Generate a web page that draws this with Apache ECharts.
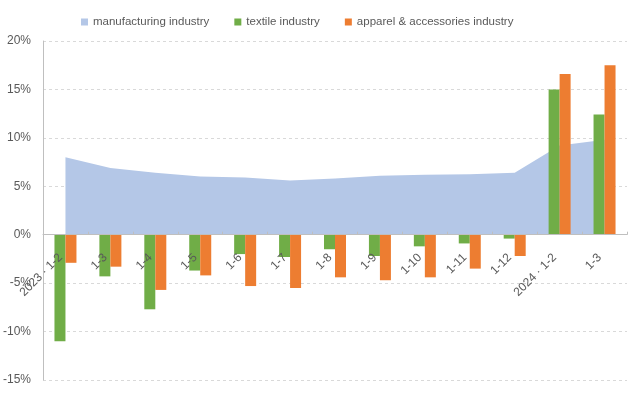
<!DOCTYPE html>
<html>
<head>
<meta charset="utf-8">
<title>Industry growth</title>
<script src="https://cdn.jsdelivr.net/npm/echarts@6/dist/echarts.min.js"></script>
<style>
  html, body { margin: 0; padding: 0; background: #fff; }
  #chart { width: 630px; height: 396px; }
</style>
</head>
<body>
<div id="chart"></div>
<script>
const categories = ['2023 · 1-2', '1-3', '1-4', '1-5', '1-6', '1-7', '1-8', '1-9', '1-10', '1-11', '1-12', '2024 · 1-2', '1-3']
const manufacturing = [8.0, 6.9, 6.4, 6.0, 5.9, 5.6, 5.8, 6.1, 6.2, 6.25, 6.4, 9.2, 9.8]
const textile = [-11.0, -4.3, -7.7, -3.7, -2.0, -2.3, -1.5, -2.2, -1.2, -0.9, -0.4, 15.0, 12.4]
const apparel = [-2.9, -3.3, -5.7, -4.2, -5.3, -5.5, -4.4, -4.7, -4.4, -3.5, -2.2, 16.6, 17.5]
const yTicks = { min: -15, max: 20, step: 5 }

const chart = echarts.init(document.getElementById('chart'))
const textColor = '#595959'
const font = 'Liberation Sans'

// grid box in pixels, the x axis is moved up to the 0% line
const gridTop = 41
const gridBottom = 16
const plotHeight = 396 - gridTop - gridBottom
const zeroOffset = plotHeight * (0 - yTicks.min) / (yTicks.max - yTicks.min)

const option = {
  animation: false,
  textStyle: { fontFamily: font },
  legend: {
    left: 76,
    top: 11,
    itemWidth: 7,
    itemHeight: 7,
    itemGap: 25,
    textStyle: { color: textColor, fontSize: 11.5, fontFamily: font },
    data: [
      { name: 'manufacturing industry', icon: 'rect' },
      { name: 'textile industry', icon: 'rect' },
      { name: 'apparel & accessories industry', icon: 'rect' }
    ]
  },
  grid: {
    left: 43,
    right: 3,
    top: gridTop,
    bottom: gridBottom,
    containLabel: false,
    outerBoundsMode: 'none'
  },
  xAxis: {
    type: 'category',
    data: categories,
    boundaryGap: true,
    z: 4,
    offset: -zeroOffset,
    axisLine: { onZero: false, lineStyle: { color: '#BFBFBF' } },
    axisTick: { show: true, inside: true, length: 3, lineStyle: { color: '#BFBFBF' } },
    axisLabel: {
      interval: 0,
      rotate: 45,
      margin: 16,
      padding: [0, 7, 0, 0],
      color: textColor,
      fontSize: 12,
      fontFamily: font
    }
  },
  yAxis: {
    type: 'value',
    min: yTicks.min,
    max: yTicks.max,
    interval: yTicks.step,
    axisLine: { show: true, lineStyle: { color: '#BFBFBF' } },
    axisTick: { show: false },
    axisLabel: {
      formatter: '{value}%',
      color: textColor,
      fontSize: 12,
      margin: 12,
      fontFamily: font
    },
    splitLine: { show: true, lineStyle: { color: '#D9D9D9', type: [3, 3] } }
  },
  series: [
    {
      name: 'manufacturing industry',
      type: 'line',
      z: 1,
      data: manufacturing,
      symbol: 'none',
      lineStyle: { width: 0 },
      itemStyle: { color: '#B4C7E7' },
      areaStyle: { color: '#B4C7E7', opacity: 1 }
    },
    {
      name: 'textile industry',
      type: 'bar',
      z: 3,
      barWidth: 11,
      barGap: '0%',
      data: textile,
      itemStyle: { color: '#70AD47' }
    },
    {
      name: 'apparel & accessories industry',
      type: 'bar',
      z: 3,
      barWidth: 11,
      barGap: '0%',
      data: apparel,
      itemStyle: { color: '#ED7D31' }
    }
  ]
}

chart.setOption(option)
</script>
</body>
</html>
